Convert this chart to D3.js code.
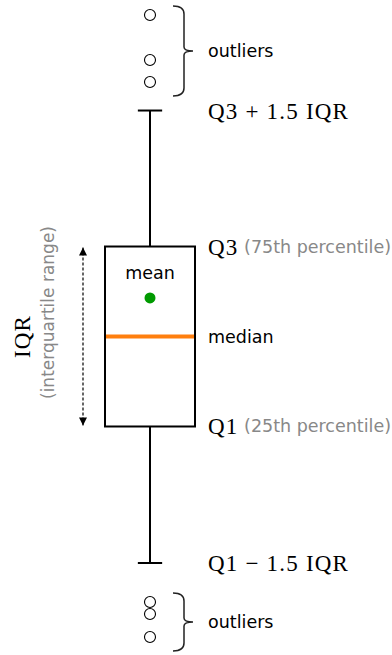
<!DOCTYPE html>
<html>
<head>
<meta charset="utf-8">
<script src="https://cdn.jsdelivr.net/npm/d3@7"></script>
<style>
  body { margin: 0; background: #fff; }
  svg { display: block; }
</style>
</head>
<body>
<script>
// box stats in units of a standard normal sample
const quartiles = [-0.675, 0, 0.675]; // Q1, median, Q3
const meanValue = 0.289;
const whiskers = [-1.699, 1.695];
const outliersHigh = [2.412, 2.074, 1.909];
const outliersLow = [-1.992, -2.082, -2.254];

const w = 392;
const h = 655;

const svg = d3.select("body")
  .append("svg")
  .attr("width", w)
  .attr("height", h);

const x = d3.scaleLinear().domain([0.5, 1.5]).range([60, 240]);
const y = d3.scaleLinear().domain([-2.5, 2.5]).range([669.8, 3.2]);

const pos = 1;
const boxW = 0.5;
const capW = 0.135;

const serif = "'Liberation Serif', 'DejaVu Serif', serif";
const sans = "'DejaVu Sans', sans-serif";

// whiskers
svg.append("g")
  .selectAll("line")
  .data([[whiskers[1], quartiles[2]], [quartiles[0], whiskers[0]]])
  .enter()
  .append("line")
  .attr("x1", x(pos)).attr("x2", x(pos))
  .attr("y1", d => y(d[0])).attr("y2", d => y(d[1]))
  .attr("stroke", "black")
  .attr("stroke-width", 2);

// caps
svg.append("g")
  .selectAll("line")
  .data(whiskers)
  .enter()
  .append("line")
  .attr("x1", x(pos - capW / 2)).attr("x2", x(pos + capW / 2))
  .attr("y1", d => y(d)).attr("y2", d => y(d))
  .attr("stroke", "black")
  .attr("stroke-width", 2);

// box
svg.append("rect")
  .attr("x", x(pos - boxW / 2))
  .attr("y", y(quartiles[2]))
  .attr("width", x(pos + boxW / 2) - x(pos - boxW / 2))
  .attr("height", y(quartiles[0]) - y(quartiles[2]))
  .attr("fill", "none")
  .attr("stroke", "black")
  .attr("stroke-width", 2);

// median
svg.append("line")
  .attr("x1", x(pos - boxW / 2) + 1).attr("x2", x(pos + boxW / 2) - 1)
  .attr("y1", y(quartiles[1])).attr("y2", y(quartiles[1]))
  .attr("stroke", "#ff7f0e")
  .attr("stroke-width", 4);

// mean
svg.append("circle")
  .attr("cx", x(pos)).attr("cy", y(meanValue))
  .attr("r", 5.5)
  .attr("fill", "#009a00");

svg.append("text")
  .attr("x", x(pos)).attr("y", y(meanValue) - 25)
  .attr("text-anchor", "middle")
  .attr("dominant-baseline", "central")
  .attr("font-family", sans).attr("font-size", 17.5)
  .text("mean");

// outliers
svg.append("g")
  .selectAll("circle")
  .data(outliersHigh.concat(outliersLow))
  .enter()
  .append("circle")
  .attr("cx", x(pos)).attr("cy", d => y(d))
  .attr("r", 5.5)
  .attr("fill", "none")
  .attr("stroke", "black")
  .attr("stroke-width", 1.1);

// braces around outliers
const brace = (top, bottom) => {
  const x0 = 173, x1 = 184, x2 = 193, r = 8;
  const m = (top + bottom) / 2;
  return `M${x0},${top} Q${x1},${top} ${x1},${top + r} L${x1},${m - r / 2} ` +
    `Q${x1},${m} ${x2},${m} Q${x1},${m} ${x1},${m + r / 2} ` +
    `L${x1},${bottom - r} Q${x1},${bottom} ${x0},${bottom}`;
};

[outliersHigh, outliersLow].forEach(g => {
  const [lo, hi] = d3.extent(g);
  const top = y(hi) - 9, bottom = y(lo) + 14;
  svg.append("path")
    .attr("d", brace(top, bottom))
    .attr("fill", "none")
    .attr("stroke", "#222")
    .attr("stroke-width", 1.5);
  svg.append("text")
    .attr("x", 208).attr("y", (top + bottom) / 2)
    .attr("dominant-baseline", "central")
    .attr("font-family", sans).attr("font-size", 17.5)
    .text("outliers");
});

// right side labels
const rightLabels = [
  { v: whiskers[1], math: "Q3 + 1.5 IQR", note: "" },
  { v: quartiles[2], math: "Q3", note: " (75th percentile)" },
  { v: quartiles[0], math: "Q1", note: " (25th percentile)" },
  { v: whiskers[0], math: "Q1 \u2212 1.5 IQR", note: "" }
];

rightLabels.forEach(d => {
  const t = svg.append("text")
    .attr("x", 208).attr("y", y(d.v))
    .attr("dominant-baseline", "central");
  t.append("tspan")
    .attr("font-family", serif).attr("font-size", 23)
    .attr("letter-spacing", 1.2)
    .text(d.math);
  if (d.note) {
    t.append("tspan")
      .attr("font-family", sans).attr("font-size", 17.5)
      .attr("fill", "#888")
      .text(d.note);
  }
});

svg.append("text")
  .attr("x", 208).attr("y", y(quartiles[1]))
  .attr("dominant-baseline", "central")
  .attr("font-family", sans).attr("font-size", 17.5)
  .text("median");

// IQR arrow
const defs = svg.append("defs");
defs.append("marker")
  .attr("id", "head")
  .attr("viewBox", "0 0 10 10")
  .attr("refX", 10).attr("refY", 5)
  .attr("markerWidth", 8).attr("markerHeight", 8)
  .attr("markerUnits", "userSpaceOnUse")
  .attr("orient", "auto-start-reverse")
  .append("path")
  .attr("d", "M0,0 L10,5 L0,10 z")
  .attr("fill", "black");

svg.append("line")
  .attr("x1", 83).attr("x2", 83)
  .attr("y1", y(quartiles[2]) + 1).attr("y2", y(quartiles[0]) - 1)
  .attr("stroke", "black")
  .attr("stroke-width", 1.2)
  .attr("stroke-dasharray", "3,2")
  .attr("marker-start", "url(#head)")
  .attr("marker-end", "url(#head)");

const iqrMid = y(quartiles[1]);
svg.append("text")
  .attr("transform", `translate(22,${iqrMid}) rotate(-90)`)
  .attr("text-anchor", "middle")
  .attr("dominant-baseline", "central")
  .attr("font-family", serif).attr("font-size", 23)
  .attr("letter-spacing", 1.2)
  .text("IQR");

svg.append("text")
  .attr("transform", `translate(48,${iqrMid - 24}) rotate(-90)`)
  .attr("text-anchor", "middle")
  .attr("dominant-baseline", "central")
  .attr("font-family", sans).attr("font-size", 17)
  .attr("fill", "#888")
  .text("(interquartile range)");
</script>
</body>
</html>
